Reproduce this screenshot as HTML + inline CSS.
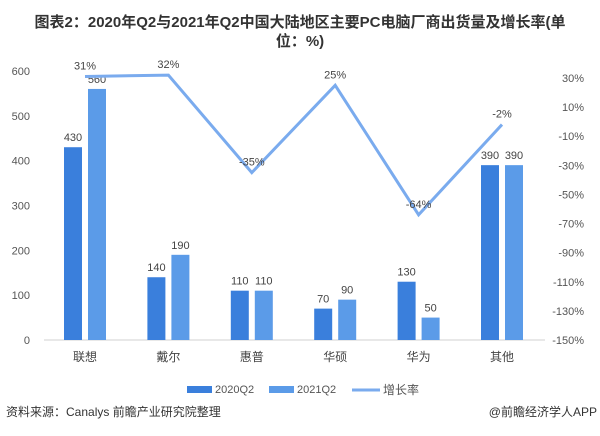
<!DOCTYPE html>
<html><head><meta charset="utf-8"><style>
body{margin:0;background:#fff;}
svg text{font-family:"Liberation Sans","Noto Sans CJK SC",sans-serif;}
</style></head><body>
<svg width="600" height="431" viewBox="0 0 600 431" xmlns="http://www.w3.org/2000/svg">
<text x="300" y="27" text-anchor="middle" font-size="15" font-weight="bold" fill="#333">图表2：2020年Q2与2021年Q2中国大陆地区主要PC电脑厂商出货量及增长率(单</text>
<text x="300" y="46" text-anchor="middle" font-size="15" font-weight="bold" fill="#333">位：%)</text>
<line x1="44" y1="340" x2="545" y2="340" stroke="#d0d0d0"/>
<g id="g"></g>
<g>
<rect x="187" y="386" width="25" height="7" fill="#3a7fdc"/>
<text x="215" y="393" font-size="11" fill="#555">2020Q2</text>
<rect x="269" y="386" width="25" height="7" fill="#5b9be8"/>
<text x="297" y="393" font-size="11" fill="#555">2021Q2</text>
<line x1="352" y1="390" x2="380" y2="390" stroke="#7aabee" stroke-width="3"/>
<text x="383" y="394" font-size="12" fill="#555">增长率</text>
</g>
<text x="6" y="416" font-size="12" fill="#333">资料来源：Canalys 前瞻产业研究院整理</text>
<text x="597" y="416" text-anchor="end" font-size="12" fill="#333">@前瞻经济学人APP</text>
</svg>
<script>
const categories=["联想","戴尔","惠普","华硕","华为","其他"];
const s2020=[430,140,110,70,130,390];
const s2021=[560,190,110,90,50,390];
const growth=[31,32,-35,25,-64,-2];
const leftTicks=[0,100,200,300,400,500,600];
const rightTicks=[30,10,-10,-30,-50,-70,-90,-110,-130,-150];
const NS="http://www.w3.org/2000/svg";
const g=document.getElementById('g');
const xc=i=>85+83.4*i;
const yL=v=>340-v*(269/600);
const yR=v=>340-(v+150)*(262/180);
function mk(t,a,txt){const e=document.createElementNS(NS,t);for(const k in a)e.setAttribute(k,a[k]);if(txt!==undefined)e.textContent=txt;g.appendChild(e);return e;}
leftTicks.forEach(v=>{const e=mk('text',{x:30,y:yL(v)+4,'text-anchor':'end','font-size':11,fill:'#555'},v);

});
rightTicks.forEach(v=>{const e=mk('text',{x:584,y:yR(v)+4,'text-anchor':'end','font-size':11,fill:'#555'},v+'%');

});
categories.forEach((c,i)=>{
const e=mk('text',{x:xc(i),y:361,'text-anchor':'middle','font-size':12,fill:'#444'},c);


const b1=mk('rect',{x:xc(i)-21,y:yL(s2020[i]),width:18,height:340-yL(s2020[i]),fill:'#3a7fdc'});


const b2=mk('rect',{x:xc(i)+3,y:yL(s2021[i]),width:18,height:340-yL(s2021[i]),fill:'#5b9be8'});


const l1=mk('text',{x:xc(i)-12,y:yL(s2020[i])-6,'text-anchor':'middle','font-size':11,fill:'#444'},s2020[i]);


const l2=mk('text',{x:xc(i)+12,y:yL(s2021[i])-6,'text-anchor':'middle','font-size':11,fill:'#444'},s2021[i]);


});
const pts=growth.map((v,i)=>xc(i)+','+yR(v)).join(' ');
const pl=mk('polyline',{points:pts,fill:'none',stroke:'#7aabee','stroke-width':3,'stroke-linejoin':'miter'});


growth.forEach((v,i)=>{const e=mk('text',{x:xc(i),y:yR(v)-7,'text-anchor':'middle','font-size':11,fill:'#444'},v+'%');

});
</script>
</body></html>
